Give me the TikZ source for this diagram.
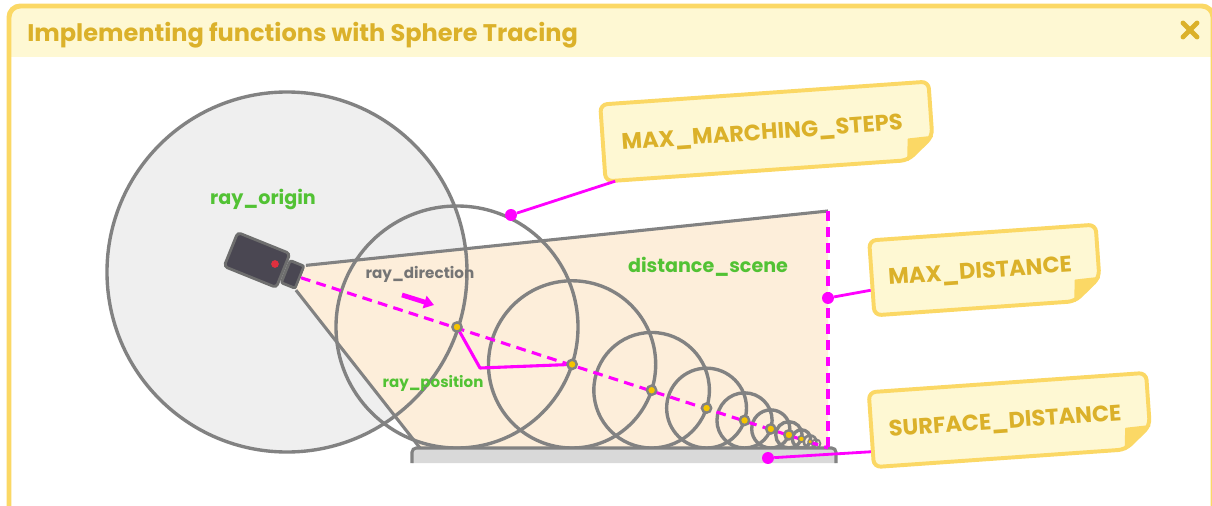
\documentclass[tikz,border=0pt]{standalone}
\usepackage{fontspec}
\setmainfont{Poppins}
\usepackage{tikz}
\usetikzlibrary{arrows.meta}
\definecolor{frameY}{HTML}{FBD865}
\definecolor{headY}{HTML}{FEF8D3}
\definecolor{titleY}{HTML}{DBB12A}
\definecolor{lineG}{HTML}{828282}
\definecolor{originG}{HTML}{EFEFEF}
\definecolor{coneP}{HTML}{FDEEDA}
\definecolor{rayM}{HTML}{FF00FF}
\definecolor{labelG}{HTML}{52C234}
\definecolor{camD}{HTML}{4A4752}
\definecolor{camR}{HTML}{E0303F}
\definecolor{dotY}{HTML}{F5C400}
\definecolor{groundG}{HTML}{D9D9D9}
\tikzstyle{frameLine} = [draw=frameY, line width=3.5pt, rounded corners=8pt]
\tikzstyle{titleText} = [text=titleY, font=\bfseries\fontsize{17.1}{19}\selectfont, inner sep=0pt]
\tikzstyle{closeX} = [draw=titleY, line width=3.5pt, line cap=round]
\tikzstyle{sphereLine} = [draw=lineG, line width=2.4pt]
\tikzstyle{rayDash} = [draw=rayM, line width=2.2pt, dash pattern=on 7pt off 4.5pt]
\tikzstyle{rayPath} = [draw=rayM, line width=2.2pt, line join=round]
\tikzstyle{markDot} = [circle, inner sep=0pt, fill=dotY, draw=lineG]
\tikzstyle{pinDot} = [circle, inner sep=0pt, minimum size=8.5pt, fill=rayM]
\tikzstyle{pinLine} = [draw=rayM, line width=2pt, shorten >=1.4pt]
\tikzstyle{dirArrow} = [draw=rayM, line width=3.4pt, -{Triangle[length=7pt,width=9pt]}]
\tikzstyle{camBody} = [rectangle, rounded corners=2.5pt, fill=camD, draw=lineG!85!black, line width=2pt, minimum width=40pt, minimum height=26pt, inner sep=0pt]
\tikzstyle{camLens} = [camBody, minimum width=10.7pt, minimum height=17pt, rounded corners=1.5pt]
\tikzstyle{greenLabel} = [text=labelG, font=\bfseries\fontsize{13.6}{15}\selectfont]
\tikzstyle{grayLabel} = [text=lineG!90!black, font=\bfseries\fontsize{10.8}{12}\selectfont]
\tikzstyle{noteBox} = [draw=frameY, fill=headY, line width=2.8pt, rounded corners=5pt]
\tikzstyle{noteFold} = [fill=frameY, draw=frameY, line width=1pt, line join=round]
\tikzstyle{noteText} = [text=titleY, font=\bfseries\fontsize{16}{18}\selectfont, rotate=4, text depth=0pt]

% sticky note: name, centre, width, height, pin (local), text
\newcommand{\noteCard}[6]{%
  \begin{scope}[shift={#2}, rotate=4]
    \draw[noteBox] ({-#3/2},{-#4/2}) -- ({#3/2},{-#4/2}) -- ({#3/2},{#4/2-22}) -- ({#3/2-26},{#4/2}) -- ({-#3/2},{#4/2}) -- cycle;
    \filldraw[noteFold] ({#3/2},{#4/2-22}) -- ({#3/2-24},{#4/2-21}) -- ({#3/2-26},{#4/2}) -- cycle;
    \node[noteText] (#1) at (-5,0) {#6};
    \coordinate (#1-pin) at #5;
  \end{scope}}

\begin{document}
\begin{tikzpicture}[x=0.025cm, y=-0.025cm]
    \useasboundingbox (0,0) rectangle (1212,506);

    % window and header
    \begin{scope}
        \clip[rounded corners=8pt] (9,6) rectangle (1213,560);
        \fill[white] (9,6) rectangle (1213,560);
        \fill[headY] (9,6) rectangle (1213,57);
    \end{scope}
    \draw[frameLine] (9,6) rectangle (1213,560);
    \node[titleText, anchor=west] (title) at (27,35) {Implementing functions with Sphere Tracing};
    \draw[closeX] (1183,23) -- (1197,37) (1183,37) -- (1197,23);

    % first sphere around the camera
    \coordinate (rayOrigin) at (287,272);
    \fill[originG] (rayOrigin) circle[radius=180];

    % camera
    \node[camBody, rotate=-22] (cam) at (257,260) {};
    \node[camLens, rotate=-22, anchor=west] (lens) at (cam.east) {};
    \node[circle, fill=camR, inner sep=0pt, minimum size=5.5pt] (camDot) at (275,264) {};

    % view cone
    \coordinate (coneTop) at (828,211);
    \coordinate (coneBot) at (828,448);
    \coordinate (coneFoot) at (420,448);
    \fill[coneP] (lens.north east) -- (coneTop) -- (coneBot) -- (coneFoot) -- (lens.south east) -- cycle;
    \draw[sphereLine, line width=2.2pt] (lens.north east) -- (coneTop);
    \draw[sphereLine, line width=2.2pt] (lens.south east) -- (coneFoot);
    \draw[sphereLine] (rayOrigin) circle[radius=180];

    % marching spheres, each touching the floor
    \foreach \n in {1,...,10}{
        \pgfmathsetmacro\rr{121*0.691^(\n-1)}
        \pgfmathsetmacro\xx{457+(121-\rr)*3.078}
        \pgfmathsetmacro\yy{448-\rr}
        \pgfmathsetmacro\lw{min(2.4,0.3*\rr)}
        \draw[sphereLine, line width=\lw pt] (\xx,\yy) circle[radius=\rr];
        \coordinate (c\n) at (\xx,\yy);
    }

    % floor
    \draw[fill=groundG, draw=lineG, line width=2.2pt, rounded corners=3pt] (412,463) -- (412,448) -- (836,448) -- (836,463);

    % ray and limits
    \draw[rayDash] (lens.east) -- (coneBot);
    \draw[rayDash] (coneTop) -- (coneBot);
    \coordinate (bend) at (480,368);
    \draw[rayPath] (c1) -- (bend) -- (c2);
    \foreach \n in {1,...,9}{
        \pgfmathsetmacro\ds{min(6.6,0.5*121*0.691^(\n-1))}
        \pgfmathsetmacro\dw{\ds*0.26}
        \node[markDot, minimum size=\ds pt, line width=\dw pt] (p\n) at (c\n) {};
    }

    % labels
    \node[greenLabel] (originLbl) at (263,199) {ray\_origin};
    \node[grayLabel] (dirLbl) at (420,274) {ray\_direction};
    \coordinate (dirTail) at (402,295);
    \coordinate (dirHead) at (434,305);
    \draw[dirArrow] (dirTail) -- (dirHead);
    \node[greenLabel] (sceneLbl) at (708,267) {distance\_scene};
    \node[greenLabel, font=\bfseries\fontsize{10.7}{12}\selectfont] (posLbl) at (433,383) {ray\_position};

    % constants
    \node[pinDot] (stepDot) at (511,215) {};
    \node[pinDot] (distDot) at (828,298) {};
    \node[pinDot] (surfDot) at (768,458) {};
    \noteCard{steps}{(767,131.5)}{329}{77}{(-153,38.5)}{MAX\_MARCHING\_STEPS}
    \noteCard{maxDist}{(985,270)}{227}{75}{(-113.5,12)}{MAX\_DISTANCE}
    \noteCard{surfDist}{(1010,420)}{278}{75}{(-139,22)}{SURFACE\_DISTANCE}
    \draw[pinLine] (stepDot) -- (steps-pin);
    \draw[pinLine] (distDot) -- (maxDist-pin);
    \draw[pinLine] (surfDot) -- (surfDist-pin);
\end{tikzpicture}
\end{document}
